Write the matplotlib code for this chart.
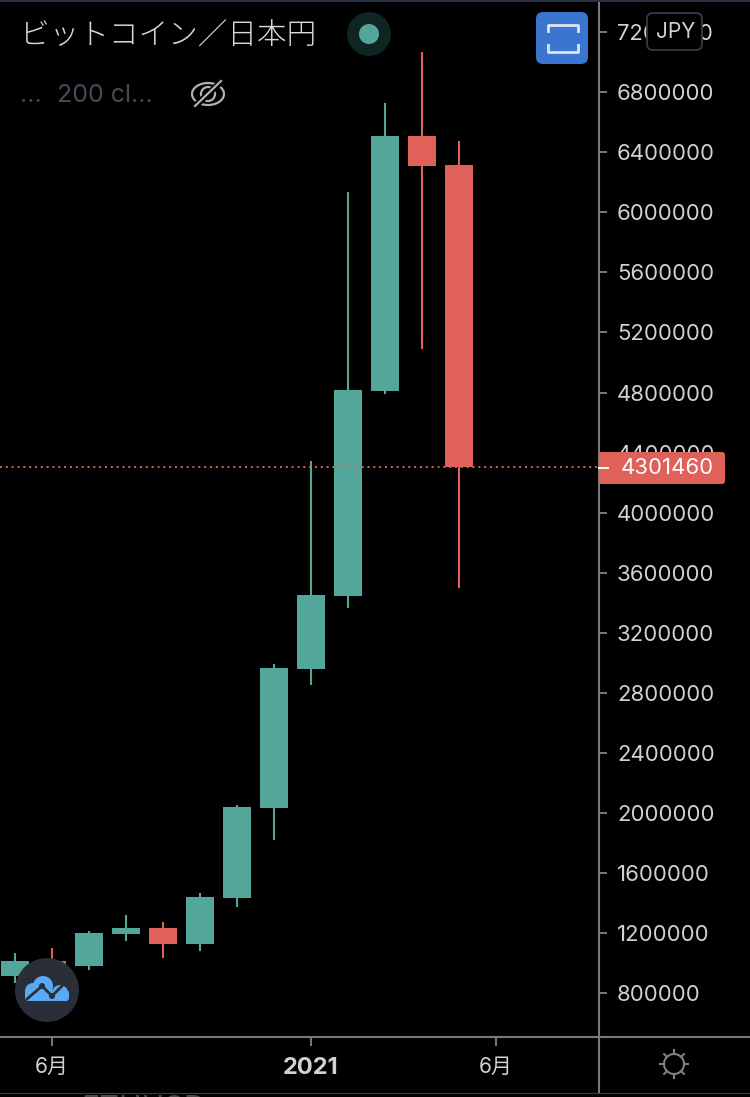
import numpy as np
import matplotlib
matplotlib.use('Agg')
import matplotlib.pyplot as plt
from matplotlib.patches import Circle, Ellipse, FancyBboxPatch, Rectangle

# ── Data ────────────────────────────────────────────────────────────────
months = ['2020-05', '2020-06', '2020-07', '2020-08', '2020-09', '2020-10', '2020-11',
          '2020-12', '2021-01', '2021-02', '2021-03', '2021-04', '2021-05']
opens  = [913000, 1013000, 980000, 1193000, 1233000, 1126000, 1433000,
          2032000, 2958000, 3444000, 4809000, 6507000, 6314000]
closes = [1013000, 980000, 1200000, 1233000, 1126000, 1439000, 2039000,
          2964000, 3450000, 4816000, 6507000, 6307000, 4301460]
highs  = [1066000, 1100000, 1213000, 1319000, 1273000, 1466000, 2052000,
          2991000, 4343000, 6134000, 6727000, 7066000, 6474000]
lows   = [867000, 940000, 953000, 1146000, 1033000, 1080000, 1373000,
          1819000, 2851000, 3364000, 4789000, 5089000, 3497000]
last_price = 4301460

y_ticks = list(range(800000, 7200001, 400000))
x_tick_pos = [1, 8, 13]
x_tick_labels = ['6月', '2021', '6月']

TEAL = '#53a69a'
RED  = '#e0605a'
GRID = '#7a7a7a'
TEXT = '#d1d2d4'
FONT = ['Inter', 'Noto Sans CJK JP', 'DejaVu Sans']
TICK_SIZE = 15.9

W, H = 750, 1097
plt.rcParams['font.family'] = FONT

fig = plt.figure(figsize=(W / 100, H / 100), dpi=100, facecolor='black')

# ── Price pane ──
AX_R, AX_B = 599, 1037
ax = fig.add_axes([0, 1 - AX_B / H, AX_R / W, AX_B / H], facecolor='black')


def px_to_price(y):
    return 800000 + (993.2 - y) * 6000000 / 901


ax.set_ylim(px_to_price(AX_B), px_to_price(0))
ax.set_xlim(-15 / 37, (AX_R - 15) / 37)

xs = np.arange(len(months))
for x, o, c, hi, lo in zip(xs, opens, closes, highs, lows):
    col = TEAL if c >= o else RED
    ax.vlines(x, lo, hi, color=col, lw=1.5, zorder=2)
    ax.bar(x, abs(c - o), bottom=min(o, c), width=28 / 37, color=col, lw=0, zorder=3)

ax.axhline(last_price, color=RED, lw=1.4, ls=(0, (1, 2)), zorder=4)

for side in ['top', 'left']:
    ax.spines[side].set_visible(False)
for side in ['right', 'bottom']:
    ax.spines[side].set_color(GRID)
    ax.spines[side].set_linewidth(1.5)

ax.yaxis.tick_right()
ax.set_yticks(y_ticks)
ax.set_yticklabels([str(v) for v in y_ticks])
ax.tick_params(axis='y', length=6, width=1.4, color=GRID, labelcolor=TEXT,
               labelsize=TICK_SIZE, pad=7)
ax.set_xticks(x_tick_pos)
ax.set_xticklabels(x_tick_labels)
ax.tick_params(axis='x', length=6.5, width=1.4, color=GRID, labelcolor=TEXT,
               labelsize=15, pad=8)
ax.get_xticklabels()[1].set_fontweight('bold')
ax.get_xticklabels()[1].set_fontsize(17)

# ── Overlay in pixel coordinates for the app chrome ──
ui = fig.add_axes([0, 0, 1, 1], facecolor='none', zorder=10)
ui.set_xlim(0, W)
ui.set_ylim(H, 0)
ui.axis('off')

# frame lines
ui.text(144, 1117, 'ETHUSD', color='#4a4a4e', fontsize=22, ha='center', va='baseline', clip_on=True)
ui.plot([0, W], [0.8, 0.8], color='#2b3244', lw=1.4)
ui.plot([0, W], [1092.5, 1092.5], color='#363a45', lw=0.9)
ui.plot([599, 599], [AX_B, 1092], color=GRID, lw=1.5)
ui.plot([599, W], [AX_B, AX_B], color=GRID, lw=1.5)

# header
ui.text(20, 36, 'ビットコイン／日本円', color='#d8d9db', fontsize=21.3, va='center',
        family=['Noto Sans CJK JP', 'DejaVu Sans'], fontweight='light')
ui.add_patch(Circle((369, 34), 22, color='#0f2523', lw=0))
ui.add_patch(Circle((369, 34), 10, color=TEAL, lw=0))
ui.text(20, 96, '...', color='#474b57', fontsize=18, va='center')
ui.text(57, 96, '200 cl...', color='#474b57', fontsize=18, va='center')

# eye-off icon
eye = '#aeb0b5'
ui.add_patch(Ellipse((208, 94), 32, 22, fill=False, ec=eye, lw=1.6))
ui.add_patch(Circle((208, 94), 7, fill=False, ec=eye, lw=1.6))
ui.plot([194, 221], [107, 82], color='black', lw=4.5, solid_capstyle='butt')
ui.plot([195, 221], [106, 81], color=eye, lw=1.6)

# screenshot button
ui.add_patch(FancyBboxPatch((541, 17), 42, 42, boxstyle='round,pad=5,rounding_size=7',
                            fc='#3a76d0', ec='none'))
btn = '#dfe5ef'
ui.plot([548, 548, 578, 578], [31, 25, 25, 31], color=btn, lw=2, solid_joinstyle='round')
ui.plot([548, 548, 578, 578], [45, 52, 52, 45], color=btn, lw=2, solid_joinstyle='round')

# currency chip
ui.add_patch(FancyBboxPatch((651, 17), 47, 29, boxstyle='round,pad=4,rounding_size=6',
                            fc='black', ec='#363a45', lw=1.3))
ui.text(675.5, 32.5, 'JPY', color=TEXT, fontsize=15, ha='center', va='center')

# last price tag
ui.add_patch(FancyBboxPatch((602, 455), 120, 26, boxstyle='round,pad=3,rounding_size=3',
                            fc=RED, ec='none'))
ui.add_patch(Rectangle((599, 452), 10, 32, fc=RED, ec='none'))
ui.plot([599, 608], [468, 468], color='white', lw=1.4)
ui.text(667, 468, str(last_price), color='white', fontsize=TICK_SIZE, ha='center', va='center')

# logo bubble
ui.add_patch(Circle((47, 990), 32, color='#2a2e39', lw=0))
cloud = '#5aa9f5'
for cx, cy, r in [(33, 991, 8), (43, 986, 10), (60, 993, 8)]:
    ui.add_patch(Circle((cx, cy), r, color=cloud, lw=0))
ui.add_patch(FancyBboxPatch((28, 993), 38, 5, boxstyle='round,pad=3,rounding_size=3',
                            fc=cloud, ec='none'))
ui.plot([27, 42, 52, 63], [999, 986, 996, 985], color='#2a2e39', lw=2)
ui.add_patch(Circle((42, 986), 3, color='#2a2e39', lw=0))
ui.add_patch(Circle((52, 996), 3, color='#2a2e39', lw=0))

# settings gear
gear = '#7d808a'
ui.add_patch(Circle((674, 1064), 10, fill=False, ec=gear, lw=1.5))
for ang in np.arange(0, 360, 45):
    a = np.deg2rad(ang)
    ui.plot([674 + 10 * np.cos(a), 674 + 14 * np.cos(a)],
            [1064 + 10 * np.sin(a), 1064 + 14 * np.sin(a)], color=gear, lw=1.5)

fig.savefig('out.png', dpi=100, facecolor='black')
